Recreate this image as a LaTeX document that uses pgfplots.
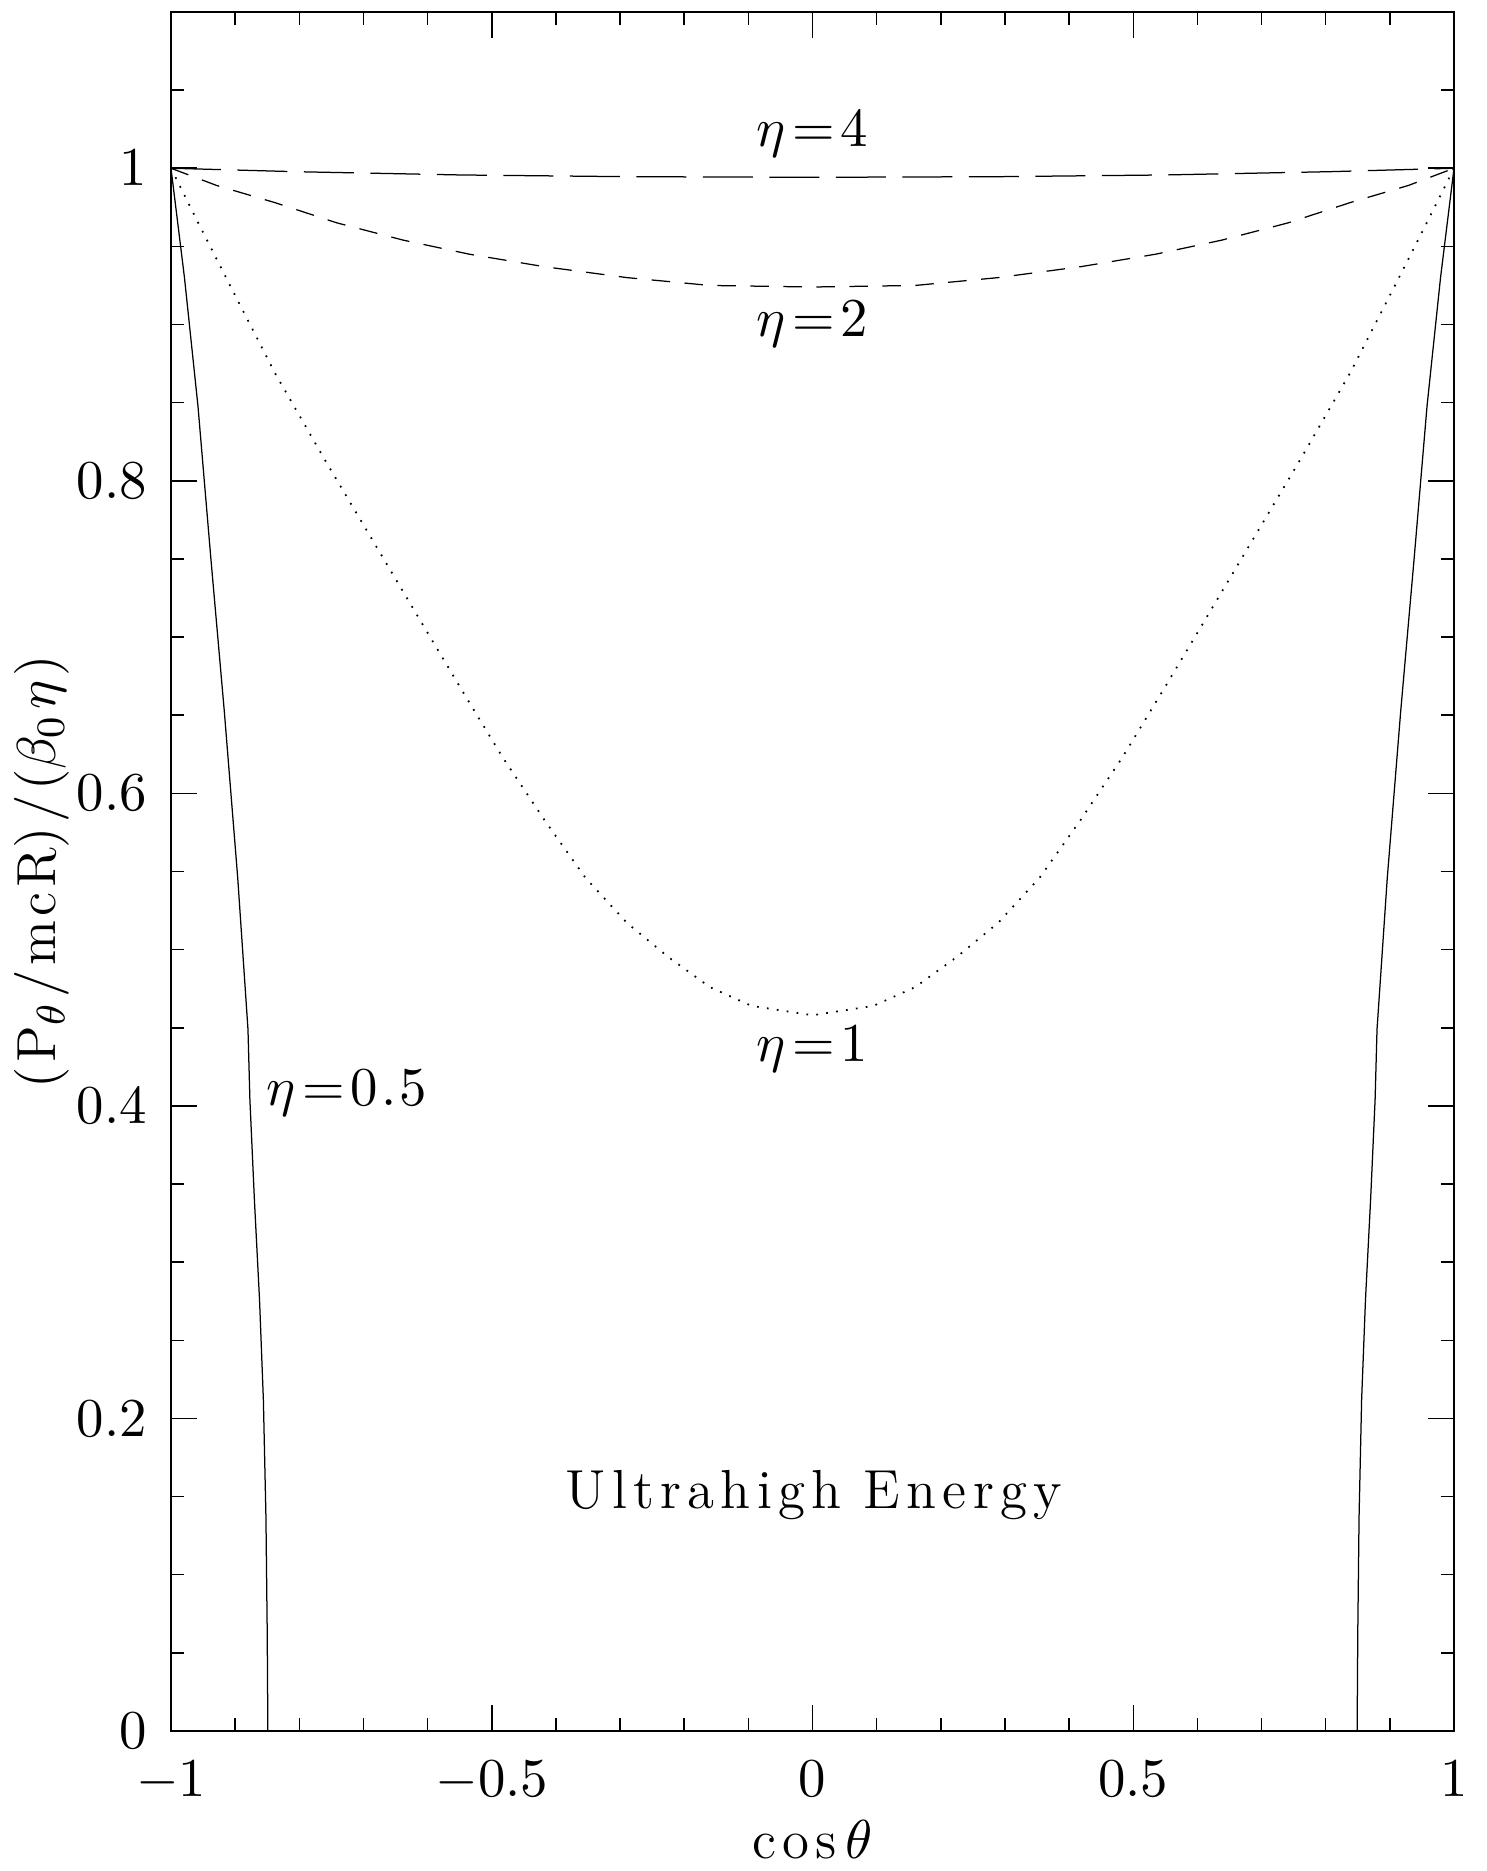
\documentclass[border=0pt]{standalone}
\usepackage{fontspec}
\usepackage{pgfplots}
\pgfplotsset{compat=1.18}
\usetikzlibrary{calc}

\newcommand\sk{\kern1.25pt}

% eta = 4, 2, 1 are symmetric in cos(theta); eta = 0.5 has two branches
\pgfplotstableread{
x y
-1.000 1.0000
-0.806 0.9978
-0.548 0.9957
-0.289 0.9946
0.000 0.9942
0.289 0.9946
0.548 0.9957
0.806 0.9978
1.000 1.0000
}\etafour

\pgfplotstableread{
x y
-1.000 1.000
-0.929 0.989
-0.838 0.978
-0.741 0.965
-0.638 0.954
-0.535 0.945
-0.418 0.937
-0.289 0.930
-0.160 0.925
0.000 0.924
0.160 0.925
0.289 0.930
0.418 0.937
0.535 0.945
0.638 0.954
0.741 0.965
0.838 0.978
0.929 0.989
1.000 1.000
}\etatwo

\pgfplotstableread{
x y
-1.000 1.000
-0.955 0.963
-0.903 0.921
-0.838 0.869
-0.761 0.814
-0.709 0.778
-0.612 0.711
-0.548 0.667
-0.483 0.623
-0.418 0.583
-0.354 0.546
-0.289 0.517
-0.224 0.495
-0.160 0.476
-0.095 0.464
0.000 0.458
0.095 0.464
0.160 0.476
0.224 0.495
0.289 0.517
0.354 0.546
0.418 0.583
0.483 0.623
0.548 0.667
0.612 0.711
0.709 0.778
0.761 0.814
0.838 0.869
0.903 0.921
0.955 0.963
1.000 1.000
}\etaone

\pgfplotstableread{
x y
-1.000 1.000
-0.979 0.930
-0.958 0.848
-0.938 0.751
-0.917 0.653
-0.896 0.546
-0.880 0.449
-0.877 0.404
-0.870 0.340
-0.862 0.276
-0.856 0.212
-0.852 0.137
-0.850 0.063
-0.849 0.000
}\etahalfleft

\pgfplotstableread{
x y
1.000 1.000
0.979 0.930
0.958 0.848
0.938 0.751
0.917 0.653
0.896 0.546
0.880 0.449
0.877 0.404
0.870 0.340
0.862 0.276
0.856 0.212
0.852 0.137
0.850 0.063
0.849 0.000
}\etahalfright

\begin{document}
\begin{tikzpicture}
\begin{axis}[
  scale only axis,
  width=256.6pt, height=343.8pt,
  xmin=-1, xmax=1, ymin=0, ymax=1.1,
  xtick={-1,-0.5,0,0.5,1},
  minor xtick={-0.9,-0.8,-0.7,-0.6,-0.4,-0.3,-0.2,-0.1,0.1,0.2,0.3,0.4,0.6,0.7,0.8,0.9},
  ytick={0,0.2,0.4,0.6,0.8,1},
  minor ytick={0.05,0.1,0.15,0.25,0.3,0.35,0.45,0.5,0.55,0.65,0.7,0.75,0.85,0.9,0.95,1.05},
  tick align=inside,
  major tick length=5.2pt, minor tick length=2.6pt,
  every tick/.style={black, line width=0.3pt},
  axis line style={line width=0.35pt},
  font=\fontsize{11}{13}\selectfont,
  xticklabel style={yshift=-2.5pt},
  yticklabel style={xshift=-1.3pt},
  xlabel={$\mathrm{c\mkern2mu o\mkern2mu s}\mkern3mu\theta$},
  ylabel={$(\mkern1.5mu\mathrm{P}_{\theta}\mkern1.5mu/\mkern1.5mu\mathrm{m\mkern1.5mu c\mkern1.5mu R})\mkern1.5mu/\mkern1.5mu(\beta_0\mkern1.5mu\eta\mkern1.5mu)$},
  every axis x label/.style={at={(axis description cs:0.5,-0.063)}, anchor=center},
  every axis y label/.style={at={(axis description cs:-0.1005,0.5)}, rotate=90, anchor=center},
]
\addplot[black, line width=0.25pt, dash pattern=on 10pt off 3.3pt] table[x=x, y=y] {\etafour};
\addplot[black, line width=0.25pt, dash pattern=on 3.7pt off 2.9pt] table[x=x, y=y] {\etatwo};
\addplot[black, line width=0.35pt, dash pattern=on 0.35pt off 1.65pt] table[x=x, y=y] {\etaone};
\addplot[black, line width=0.25pt] table[x=x, y=y] {\etahalfleft};
\addplot[black, line width=0.25pt] table[x=x, y=y] {\etahalfright};

\node[inner sep=0pt] at (axis cs:0,1.022) {$\eta\mkern2mu{=}\mkern2mu4$};
\node[inner sep=0pt] at (axis cs:0,0.900) {$\eta\mkern2mu{=}\mkern2mu2$};
\node[inner sep=0pt] at (axis cs:0,0.436) {$\eta\mkern2mu{=}\mkern2mu1$};
\node[inner sep=0pt] at (axis cs:-0.726,0.408) {$\eta\mkern2mu{=}\mkern2mu0\mkern1mu.\mkern1mu5$};
\node[inner sep=0pt] at (axis cs:0.002,0.151) {U\sk l\sk t\sk r\sk a\sk h\sk i\sk g\sk h\hspace{4.5pt}E\sk n\sk e\sk r\sk g\sk y};

\coordinate (bl) at (rel axis cs:0,0);
\coordinate (tr) at (rel axis cs:1,1);
\end{axis}
\pgfresetboundingbox
\path ($(bl)+(-34.2pt,-28pt)$) rectangle ($(tr)+(6.4pt,2.4pt)$);
\end{tikzpicture}
\end{document}
